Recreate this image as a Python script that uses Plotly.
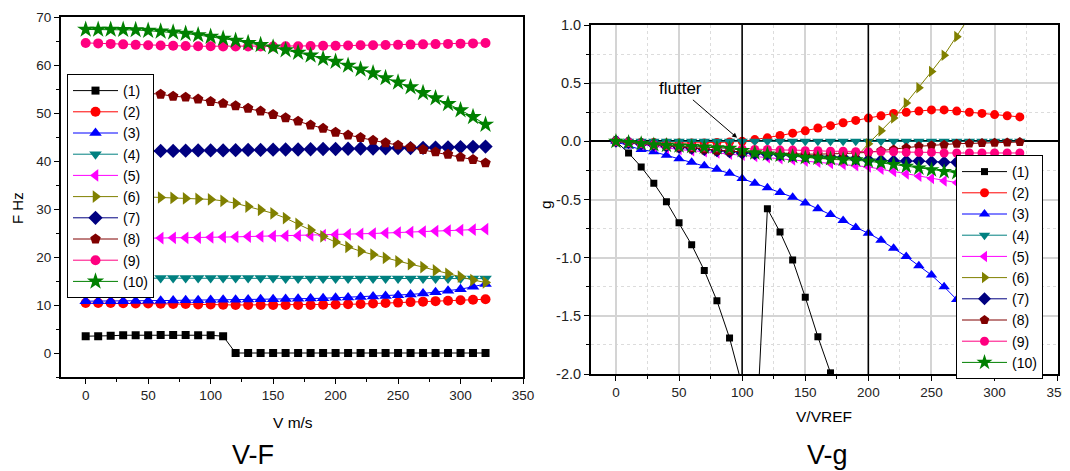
import plotly.graph_objects as go

# speed samples (m/s) shared by both panels
v = [0, 10, 20, 30, 40, 50, 60, 70, 80, 90, 100, 110, 120, 130, 140, 150, 160,
     170, 180, 190, 200, 210, 220, 230, 240, 250, 260, 270, 280, 290, 300, 310, 320]

# V-F : frequency of each mode (Hz)
f1 = [3.5, 3.5, 3.6, 3.7, 3.7, 3.7, 3.75, 3.75, 3.75, 3.7, 3.7, 3.5, 0, 0, 0, 0, 0,
      0, 0, 0, 0, 0, 0, 0, 0, 0, 0, 0, 0, 0, 0, 0, 0]
f2 = [10.4, 10.4, 10.4, 10.35, 10.3, 10.3, 10.25, 10.2, 10.2, 10.1, 10.1, 10.05, 10.0, 10.0, 10.0, 10.0, 10.0,
      10.0, 10.0, 10.05, 10.1, 10.15, 10.2, 10.3, 10.4, 10.5, 10.6, 10.7, 10.8, 10.9, 11.0, 11.1, 11.2]
f3 = [10.8, 10.8, 10.8, 10.8, 10.85, 10.9, 10.9, 10.95, 11.0, 11.0, 11.05, 11.1, 11.1, 11.15, 11.2, 11.2, 11.25,
      11.3, 11.35, 11.4, 11.5, 11.55, 11.65, 11.75, 11.9, 12.05, 12.2, 12.4, 12.65, 12.95, 13.3, 13.8, 14.4]
f4 = [15.6, 15.6, 15.6, 15.6, 15.6, 15.6, 15.6, 15.6, 15.6, 15.6, 15.6, 15.6, 15.6, 15.6, 15.6, 15.6, 15.5,
      15.5, 15.5, 15.5, 15.5, 15.5, 15.5, 15.5, 15.5, 15.5, 15.5, 15.5, 15.5, 15.5, 15.5, 15.5, 15.5]
f5 = [23.8, 23.8, 23.85, 23.85, 23.9, 23.9, 23.95, 24.0, 24.0, 24.05, 24.1, 24.15, 24.2, 24.25, 24.3, 24.35, 24.4,
      24.45, 24.5, 24.55, 24.65, 24.7, 24.8, 24.9, 25.0, 25.1, 25.2, 25.3, 25.4, 25.5, 25.6, 25.7, 25.8]
f6 = [33.0, 32.9, 32.8, 32.7, 32.6, 32.5, 32.4, 32.3, 32.2, 32.1, 32.0, 31.7, 31.2, 30.5, 29.8, 29.1, 28.1,
      26.9, 25.6, 24.3, 23.1, 22.1, 21.2, 20.5, 19.8, 19.1, 18.5, 17.9, 17.2, 16.5, 15.9, 15.2, 14.7]
f7 = [42.0, 42.0, 42.0, 42.0, 42.05, 42.1, 42.1, 42.1, 42.15, 42.2, 42.2, 42.2, 42.25, 42.3, 42.3, 42.35, 42.4,
      42.4, 42.45, 42.5, 42.5, 42.55, 42.6, 42.6, 42.65, 42.7, 42.7, 42.75, 42.8, 42.85, 42.9, 42.95, 43.0]
f8 = [54.8, 54.7, 54.6, 54.5, 54.3, 54.1, 53.9, 53.5, 53.3, 52.9, 52.4, 52.0, 51.5, 51.0, 50.4, 49.7, 49.0,
      48.3, 47.5, 46.8, 46.0, 45.4, 44.9, 44.3, 43.8, 43.3, 42.9, 42.4, 41.9, 41.4, 40.8, 40.3, 39.6]
f9 = [64.6, 64.5, 64.4, 64.3, 64.2, 64.1, 64.05, 64.0, 63.95, 63.9, 63.9, 63.85, 63.85, 63.85, 63.85, 63.85, 63.9,
      63.9, 63.95, 64.0, 64.0, 64.05, 64.1, 64.1, 64.15, 64.2, 64.25, 64.3, 64.35, 64.4, 64.45, 64.5, 64.6]
f10 = [67.4, 67.4, 67.4, 67.35, 67.3, 67.15, 67.0, 66.8, 66.55, 66.25, 65.9, 65.5, 65.1, 64.6, 64.2, 63.7, 63.1,
       62.6, 62.0, 61.3, 60.7, 59.9, 59.1, 58.3, 57.3, 56.4, 55.4, 54.2, 53.1, 51.9, 50.6, 49.2, 47.6]

# V-g : damping of each mode
g1 = [0, -0.10, -0.22, -0.36, -0.52, -0.70, -0.89, -1.11, -1.37, -1.69, -2.1, -2.8, -0.58, -0.78, -1.02, -1.34, -1.68,
      -1.99, None, None, None, None, None, None, None, None, None, None, None, None, None, None, None]
g2 = [0, -0.005, -0.01, -0.01, -0.015, -0.015, -0.015, -0.015, -0.01, -0.005, 0.0, 0.015, 0.03, 0.05, 0.07, 0.09, 0.115,
      0.135, 0.16, 0.18, 0.20, 0.22, 0.24, 0.25, 0.26, 0.27, 0.27, 0.26, 0.25, 0.24, 0.23, 0.22, 0.21]
g3 = [0, -0.04, -0.07, -0.09, -0.12, -0.15, -0.18, -0.21, -0.24, -0.275, -0.32, -0.36, -0.40, -0.44, -0.48, -0.53, -0.58,
      -0.63, -0.68, -0.74, -0.79, -0.85, -0.92, -0.99, -1.07, -1.15, -1.25, -1.36, -1.48, -1.62, -1.78, -1.97, -2.17]
g4 = [0.0, 0.0, 0.0, 0.0, 0.0, 0.0, 0.0, 0.0, 0.0, 0.0, 0.0, 0.0, 0.0, 0.0, 0.0, 0.0, 0.0,
      0.0, 0.0, 0.0, 0.0, 0.0, 0.0, 0.0, 0.0, 0.0, 0.0, 0.0, 0.0, 0.0, 0.0, 0.0, 0.0]
g5 = [0, -0.015, -0.03, -0.045, -0.06, -0.07, -0.08, -0.09, -0.10, -0.11, -0.12, -0.13, -0.14, -0.15, -0.16, -0.17, -0.18,
      -0.19, -0.20, -0.21, -0.22, -0.24, -0.26, -0.28, -0.30, -0.32, -0.34, -0.355, -0.37, -0.38, -0.39, -0.40, -0.41]
g6 = [0, -0.01, -0.02, -0.03, -0.04, -0.05, -0.06, -0.07, -0.08, -0.085, -0.09, -0.10, -0.11, -0.12, -0.13, -0.14, -0.15,
      -0.155, -0.16, -0.14, -0.02, 0.09, 0.20, 0.33, 0.46, 0.60, 0.74, 0.90, 1.07, 1.25, 1.44, 1.64, 1.85]
g7 = [0, -0.01, -0.02, -0.03, -0.04, -0.05, -0.06, -0.07, -0.08, -0.09, -0.10, -0.105, -0.11, -0.115, -0.12, -0.125, -0.13,
      -0.135, -0.14, -0.15, -0.16, -0.165, -0.17, -0.17, -0.17, -0.175, -0.18, -0.18, -0.185, -0.19, -0.19, -0.195, -0.2]
g8 = [0, -0.01, -0.02, -0.03, -0.04, -0.05, -0.06, -0.07, -0.08, -0.085, -0.09, -0.095, -0.10, -0.105, -0.11, -0.11, -0.11,
      -0.11, -0.105, -0.10, -0.095, -0.08, -0.07, -0.055, -0.043, -0.035, -0.03, -0.02, -0.018, -0.014, -0.012, -0.009, -0.006]
g9 = [0, -0.01, -0.02, -0.03, -0.035, -0.04, -0.045, -0.05, -0.055, -0.06, -0.065, -0.07, -0.07, -0.075, -0.075, -0.08, -0.08,
      -0.085, -0.085, -0.09, -0.09, -0.09, -0.09, -0.095, -0.095, -0.095, -0.1, -0.1, -0.1, -0.1, -0.1, -0.1, -0.1]
g10 = [0, -0.01, -0.02, -0.03, -0.035, -0.04, -0.045, -0.05, -0.055, -0.06, -0.08, -0.10, -0.11, -0.12, -0.13, -0.14, -0.145,
       -0.15, -0.155, -0.16, -0.17, -0.185, -0.20, -0.215, -0.23, -0.245, -0.26, -0.27, -0.28, -0.29, -0.30, -0.31, -0.32]

names = ["(1)", "(2)", "(3)", "(4)", "(5)", "(6)", "(7)", "(8)", "(9)", "(10)"]
freq = [f1, f2, f3, f4, f5, f6, f7, f8, f9, f10]
damp = [g1, g2, g3, g4, g5, g6, g7, g8, g9, g10]
flutter_lines = [100, 200]
g_ticks = [-2.0, -1.5, -1.0, -0.5, 0.0, 0.5, 1.0]
g_ticktext = ["-2.0", "-1.5", "-1.0", "-0.5", "0.0", "0.5", "1.0"]

colors = ["#000000", "#FF0000", "#0000FF", "#008080", "#FF00FF",
          "#808000", "#000080", "#800000", "#FF0080", "#008000"]
symbols = ["square", "circle", "triangle-up", "triangle-down", "triangle-left",
           "triangle-right", "diamond", "pentagon", "circle", "star"]
sizes = [8, 10, 11, 11, 11, 11, 11, 11, 10, 13]

W, H = 1070, 471
OFF = 8  # page body margin pushes the figure 8px right/down


def px_x(s):
    return (s - OFF) / W


def px_y(s):
    return 1 - (s - OFF) / H


fig = go.Figure()
for i in range(10):
    fig.add_trace(go.Scatter(
        x=v, y=freq[i], name=names[i], mode="lines+markers",
        line=dict(color=colors[i], width=1),
        marker=dict(symbol=symbols[i], size=sizes[i], color=colors[i]),
        xaxis="x", yaxis="y", legend="legend",
    ))
for i in range(10):
    fig.add_trace(go.Scatter(
        x=v, y=damp[i], name=names[i], mode="lines+markers",
        line=dict(color=colors[i], width=1),
        marker=dict(symbol=symbols[i], size=sizes[i] - 1, color=colors[i]),
        xaxis="x2", yaxis="y2", legend="legend2", connectgaps=False,
    ))

for xv in flutter_lines:
    fig.add_shape(type="line", xref="x2", yref="y2 domain", x0=xv, x1=xv, y0=0, y1=1,
                  line=dict(color="black", width=1.5))

tickfont = dict(family="Liberation Sans, Arial, sans-serif", size=13.5, color="#222")
axis_common = dict(showline=True, linecolor="black", linewidth=1.5, mirror=True,
                   ticks="outside", ticklen=5, tickwidth=1, tickcolor="black",
                   tickfont=tickfont, zeroline=False, automargin=False,
                   ticklabeloverflow="allow")

fig.update_layout(
    width=W, height=H,
    paper_bgcolor="white", plot_bgcolor="white",
    font=dict(family="Liberation Sans, Arial, sans-serif", size=14, color="black"),
    margin=dict(l=0, r=0, t=0, b=0, autoexpand=False),
    showlegend=True,
    xaxis=dict(domain=[px_x(60.7), px_x(523)], range=[-20, 350], tick0=0, dtick=50, showgrid=False,
               minor=dict(dtick=25, tick0=0, ticks="outside", ticklen=3, tickcolor="black"),
               anchor="y", **axis_common),
    yaxis=dict(domain=[px_y(377), px_y(17)], range=[-5, 70], tick0=0, dtick=10, showgrid=False,
               minor=dict(dtick=5, tick0=0, ticks="outside", ticklen=3, tickcolor="black"),
               anchor="x", **axis_common),
    xaxis2=dict(domain=[px_x(590.7), px_x(1057.7)], range=[-20, 350], tick0=0, dtick=50,
                showgrid=True, gridcolor="#d4d4d4", gridwidth=1.5,
                minor=dict(dtick=25, tick0=0, ticks="outside", ticklen=3, tickcolor="black",
                           showgrid=True, gridcolor="#dcdcdc", griddash="dot", gridwidth=1),
                anchor="y2", **axis_common),
    yaxis2=dict(domain=[px_y(374), px_y(25)], range=[-2, 1], tickmode="array",
                tickvals=g_ticks, ticktext=g_ticktext,
                showgrid=True, gridcolor="#d4d4d4", gridwidth=1.5,
                minor=dict(dtick=0.25, tick0=0, ticks="outside", ticklen=3, tickcolor="black",
                           showgrid=True, gridcolor="#dcdcdc", griddash="dot", gridwidth=1),
                anchor="x2", **{**axis_common, "zeroline": True,
                                "tickfont": dict(tickfont, size=14.5)},
                zerolinecolor="black", zerolinewidth=1.5),
    legend=dict(x=px_x(67), y=px_y(74), xanchor="left", yanchor="top",
                bgcolor="white", bordercolor="black", borderwidth=1,
                itemwidth=45, font=dict(size=14), tracegroupgap=0),
    legend2=dict(x=px_x(956), y=px_y(155), xanchor="left", yanchor="top",
                 bgcolor="white", bordercolor="black", borderwidth=1,
                 itemwidth=45, font=dict(size=14), tracegroupgap=0),
)

ann_font = dict(family="Liberation Sans, Arial, sans-serif", color="black")
fig.add_annotation(text="flutter", xref="x2", yref="y2", x=96, y=0.03, ax=-57, ay=-49,
                   showarrow=True, arrowhead=2, arrowsize=1, arrowwidth=1, arrowcolor="black",
                   font=dict(size=17, **ann_font))
labels = [("F Hz", 17, 208, -90, 15), ("V m/s", 293, 422, 0, 15.5), ("g", 545, 205, -90, 15.5),
          ("V/VREF", 824, 416, 0, 15.5), ("V-F", 253, 455, 0, 27), ("V-g", 827, 455, 0, 27)]
for txt, sx, sy, ang, fs in labels:
    fig.add_annotation(text=txt, xref="paper", yref="paper", x=px_x(sx), y=px_y(sy),
                       xanchor="center", yanchor="middle", textangle=ang, showarrow=False,
                       font=dict(size=fs, **ann_font))

fig.write_html("out.html")
